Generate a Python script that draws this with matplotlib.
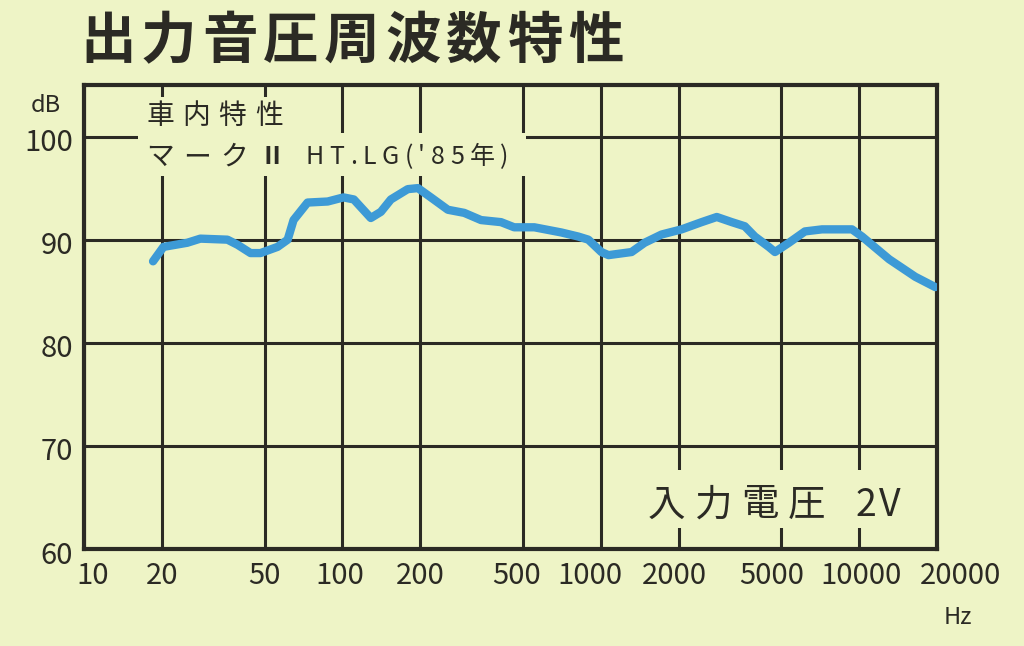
import numpy as np
import matplotlib.pyplot as plt
from matplotlib.patches import Rectangle
from matplotlib.transforms import ScaledTranslation

plt.rcParams['font.family'] = ['Noto Sans CJK JP', 'DejaVu Sans']

# frequency response
freq = [18.5, 20.3, 25.1, 28.2, 35.9, 39.3, 44.1, 48.2, 56.1, 61.4, 64.7, 73.3,
        87.7, 101, 110.7, 128.8, 140.9, 154, 179, 196, 220, 256, 296, 344,
        411, 462, 553, 703, 819, 895, 1005, 1071, 1315, 1477, 1718, 2055,
        2455, 2811, 3214, 3607, 3946, 4467, 4720, 5346, 6166, 7178, 9376,
        10260, 13060, 16480, 19690]
spl = [87.9, 89.3, 89.7, 90.1, 90.0, 89.5, 88.7, 88.7, 89.3, 90.0, 91.9, 93.6,
       93.7, 94.1, 93.9, 92.1, 92.7, 93.9, 94.9, 95.0, 94.1, 92.9, 92.6, 91.9,
       91.7, 91.2, 91.2, 90.7, 90.3, 90.0, 88.8, 88.5, 88.8, 89.7, 90.5, 91.0,
       91.7, 92.2, 91.7, 91.3, 90.3, 89.3, 88.8, 89.7, 90.8, 91.0, 91.0,
       90.3, 88.1, 86.4, 85.4]

xticks = [10, 20, 50, 100, 200, 500, 1000, 2000, 5000, 10000, 20000]
yticks = [60, 70, 80, 90, 100]

bg = '#eef4c6'
ink = '#2b2a24'
blue = '#3d9ad6'

W, H = 1024, 646
fig = plt.figure(figsize=(W / 100, H / 100), dpi=100, facecolor=bg)
ax = fig.add_axes([84 / W, 97 / H, 853 / W, 464 / H])
ax.set_facecolor(bg)

ax.set_xscale('log')
ax.set_xlim(10, 20000)
ax.set_ylim(60, 105)
ax.set_xticks(xticks)
ax.set_xticklabels([str(v) for v in xticks])
ax.xaxis.set_minor_locator(plt.NullLocator())
ax.set_yticks(yticks)
ax.set_yticklabels([str(v) for v in yticks])
ax.tick_params(length=0, labelsize=21, colors=ink)
ax.tick_params(axis='x', pad=9)
ax.tick_params(axis='y', pad=8)

# the printed labels sit a little off their lines
shifts = [9, 0, 0, -3, 0, -7, -11, -4, -10, 2, 23]
for lab, dx in zip(ax.get_xticklabels(), shifts):
    lab.set_transform(lab.get_transform() + ScaledTranslation(dx / 100, 0, fig.dpi_scale_trans))
for lab in ax.get_yticklabels():
    lab.set_transform(lab.get_transform() + ScaledTranslation(0, -3 / 100, fig.dpi_scale_trans))

ax.grid(True, color=ink, lw=2.2)
for s in ax.spines.values():
    s.set_color(ink)
    s.set_linewidth(3)

ax.plot(freq, spl, color=blue, lw=6, solid_capstyle='round', zorder=3)


def px(x, y):
    return x / W, 1 - y / H


# blank patches over the grid where the notes are printed
for x0, y0, x1, y1 in [(140, 97, 300, 135), (138, 133, 526, 176), (640, 470, 912, 528)]:
    fx, fy = px(x0, y1)
    ax.add_patch(Rectangle((fx, fy), (x1 - x0) / W, (y1 - y0) / H,
                           transform=fig.transFigure, facecolor=bg,
                           edgecolor='none', zorder=2))

renderer = fig.canvas.get_renderer()


def spaced(x, y, s, size, track, **kw):
    # draw a string char by char with extra letter spacing (pixels)
    for ch in s:
        if ch == ' ':
            x += size * 0.35 + track
            continue
        t = fig.text(*px(x, y), ch, fontsize=size, color=ink,
                     va='center', ha='left', zorder=5, **kw)
        x += t.get_window_extent(renderer).width + track


spaced(80, 42, '出力音圧周波数特性', 40, 5.5, fontweight='bold')
spaced(146, 116, '車内特性', 20, 8.5)
spaced(146, 157, 'マーク', 20, 9.5)
spaced(260, 157, 'Ⅱ', 18, 0, fontweight='bold')
spaced(306, 157, "HT.LG('85年)", 18, 5.5)
spaced(648, 505, '入力電圧', 27, 9)
spaced(856, 505, '2V', 27, 2)

fig.text(*px(31, 106), 'dB', fontsize=17, color=ink, va='center', ha='left')
fig.text(*px(958, 617), 'Hz', fontsize=17, color=ink, va='center', ha='center')

fig.savefig('out.png', dpi=100, facecolor=bg)
